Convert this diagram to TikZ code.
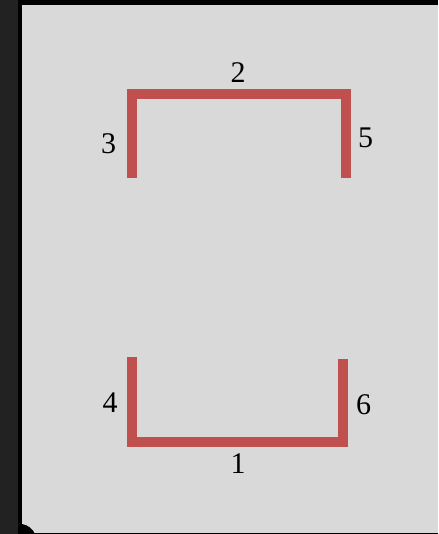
\documentclass[tikz,border=0pt]{standalone}
\usepackage{fontspec}
\setmainfont{Liberation Serif}
\definecolor{bgray}{HTML}{D9D9D9}
\definecolor{dstrip}{HTML}{222222}
\definecolor{segred}{HTML}{C0504D}
\tikzset{
  seg/.style={draw=segred, line width=10pt, line join=miter, line cap=butt},
  lbl/.style={font=\fontsize{30}{30}\selectfont, inner sep=0pt, text=black}
}
\begin{document}
\begin{tikzpicture}[x=1pt,y=-1pt]
\useasboundingbox (0,0) rectangle (438,534);
% background and frame
\fill[dstrip] (0,0) rectangle (18,534);
\fill[black] (18,0) rectangle (438,534);
\fill[bgray] (22,5) rectangle (438,532.7);
\fill[black] (22,524) .. controls (28,525) and (33,529) .. (35,534) -- (22,534) -- cycle;
% top bracket
\coordinate (tl) at (131.7,178);
\coordinate (tlc) at (131.7,94.3);
\coordinate (trc) at (345.7,94.3);
\coordinate (tr) at (345.7,178);
\draw[seg] (tl) -- (tlc) -- (trc) -- (tr);
% bottom bracket
\coordinate (bl) at (131.7,356.7);
\coordinate (blc) at (131.7,441.7);
\coordinate (brc) at (343.3,441.7);
\coordinate (br) at (343.3,359.3);
\draw[seg] (bl) -- (blc) -- (brc) -- (br);
% labels
\node[lbl] (n2) at (238,73) {2};
\node[lbl] (n3) at (108.5,144) {3};
\node[lbl] (n5) at (365.5,138) {5};
\node[lbl] (n4) at (110,403) {4};
\node[lbl] (n6) at (363.5,405) {6};
\node[lbl] (n1) at (238,464) {1};
\end{tikzpicture}
\end{document}
